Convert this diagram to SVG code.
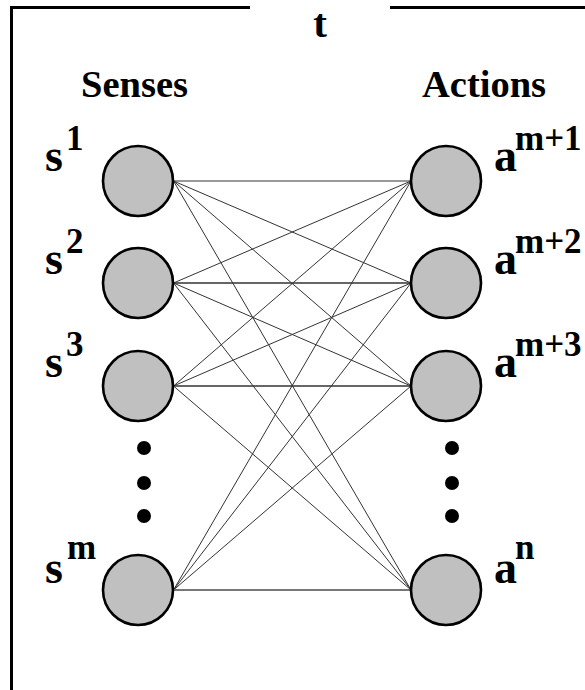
<svg xmlns="http://www.w3.org/2000/svg" width="585" height="690" viewBox="0 0 585 690">
<style>
.frame{stroke:#000;stroke-width:3;fill:none}
.node{fill:#c0c0c0;stroke:#000;stroke-width:2.6}
.dot{fill:#000}
.lbl{font-family:"Liberation Serif","Times New Roman",serif;font-weight:bold;fill:#000}
.base{font-size:46px}
.sup{font-size:35px}
.head{font-size:38.5px}
.title{font-size:41px}
.conn line{stroke:#333;stroke-width:1}
</style>
<rect width="585" height="690" fill="#fff"/>
<g id="frame">
<path class="frame" d="M11.5 690 V7.5 H250 M390 7.5 H585"/>
<text class="lbl title" x="320" y="37" text-anchor="middle">t</text>
</g>
<g id="headings">
<text class="lbl head" x="81" y="97">Senses</text>
<text class="lbl head" x="422" y="97">Actions</text>
</g>
<g id="connectors" class="conn">
<line x1="173.5" y1="181" x2="411" y2="181"/>
<line x1="173.5" y1="181" x2="411" y2="283"/>
<line x1="173.5" y1="181" x2="411" y2="386"/>
<line x1="173.5" y1="181" x2="411" y2="590"/>
<line x1="173.5" y1="283" x2="411" y2="181"/>
<line x1="173.5" y1="283" x2="411" y2="283" style="stroke-width:1.5"/>
<line x1="173.5" y1="283" x2="411" y2="386"/>
<line x1="173.5" y1="283" x2="411" y2="590"/>
<line x1="173.5" y1="386" x2="411" y2="181"/>
<line x1="173.5" y1="386" x2="411" y2="283"/>
<line x1="173.5" y1="386" x2="411" y2="386" style="stroke-width:1.5"/>
<line x1="173.5" y1="386" x2="411" y2="590"/>
<line x1="173.5" y1="590" x2="411" y2="181"/>
<line x1="173.5" y1="590" x2="411" y2="283"/>
<line x1="173.5" y1="590" x2="411" y2="386"/>
<line x1="173.5" y1="590" x2="411" y2="590" style="stroke:#777;stroke-width:2"/>
</g>
<g id="s1"><circle class="node" cx="138" cy="181" r="35"/><text class="lbl base" x="45" y="171">s</text><text class="lbl sup" x="66" y="150">1</text></g>
<g id="s2"><circle class="node" cx="138" cy="283" r="35"/><text class="lbl base" x="45" y="274">s</text><text class="lbl sup" x="66" y="253">2</text></g>
<g id="s3"><circle class="node" cx="138" cy="386" r="35"/><text class="lbl base" x="45" y="377">s</text><text class="lbl sup" x="66" y="356">3</text></g>
<g id="sm"><circle class="node" cx="138" cy="590" r="35"/><text class="lbl base" x="45" y="583">s</text><text class="lbl sup" x="67" y="559">m</text></g>
<g id="a1"><circle class="node" cx="446" cy="181" r="35"/><text class="lbl base" x="494" y="171">a</text><text class="lbl sup" x="515" y="150">m+1</text></g>
<g id="a2"><circle class="node" cx="446" cy="283" r="35"/><text class="lbl base" x="494" y="274">a</text><text class="lbl sup" x="515" y="253">m+2</text></g>
<g id="a3"><circle class="node" cx="446" cy="386" r="35"/><text class="lbl base" x="494" y="377">a</text><text class="lbl sup" x="515" y="356">m+3</text></g>
<g id="an"><circle class="node" cx="446" cy="590" r="35"/><text class="lbl base" x="494" y="583">a</text><text class="lbl sup" x="515" y="559">n</text></g>
<g id="dots-left"><circle class="dot" cx="144" cy="448" r="7"/><circle class="dot" cx="144" cy="483" r="7"/><circle class="dot" cx="144" cy="516" r="7"/></g>
<g id="dots-right"><circle class="dot" cx="452" cy="448" r="7"/><circle class="dot" cx="452" cy="483" r="7"/><circle class="dot" cx="452" cy="516" r="7"/></g>
</svg>
